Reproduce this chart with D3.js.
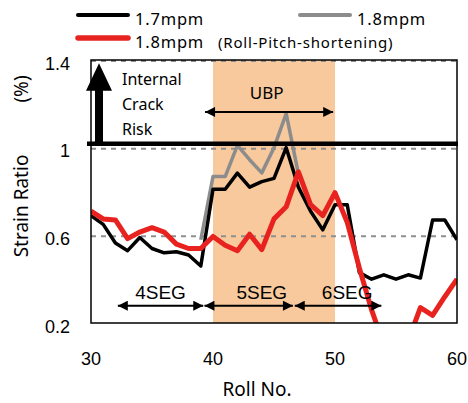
<!DOCTYPE html>
<html><head><meta charset="utf-8">
<script src="https://cdn.jsdelivr.net/npm/d3@7"></script>
<style>body{margin:0;background:#fff}svg{display:block}</style>
</head><body>
<svg id="chart" width="468" height="403"></svg>
<script>
// Roll numbers along the strand
const rolls = d3.range(30, 61);
// Strain ratio (%) per roll
const strain17 = [0.69,0.65,0.565,0.53,0.59,0.54,0.52,0.525,0.51,0.46,
                  0.81,0.81,0.884,0.82,0.845,0.86,1.0,0.82,0.71,0.625,
                  0.74,0.74,0.43,0.40,0.42,0.40,0.42,0.405,0.67,0.67,0.58];
const strain18Rolls = d3.range(39, 48);
const strain18 = [0.58,0.868,0.868,1.01,0.945,0.885,1.0,1.155,0.88];
const strain18Short = [0.71,0.675,0.67,0.585,0.615,0.635,0.615,0.56,0.54,0.54,
                       0.595,0.555,0.53,0.605,0.535,0.675,0.73,0.89,0.74,0.69,
                       0.795,0.66,0.45,0.26,0.1,0.06,0.12,0.27,0.235,0.32,0.40];
const xTicks = [30, 40, 50, 60];
const yTicks = [0.2, 0.6, 1, 1.4];
const gridValues = [0.6, 1.0, 1.4];
const ubpRange = [40, 50];
const riskLevel = 1.0;
const segments = [
  {label: "4SEG", from: 32.2, to: 39.2, text: 35.7},
  {label: "5SEG", from: 39.3, to: 46.55, text: 44.0},
  {label: "6SEG", from: 46.7, to: 53.8, text: 51.0}
];

const svg = d3.select("#chart");
const x = d3.scaleLinear().domain([30, 60]).range([91, 457]);
const y = d3.scaleLinear().domain([0.2, 1.4]).range([323, 60]);
const sans = "'Noto Sans', 'DejaVu Sans', sans-serif";
const arial = "'Liberation Sans', Arial, sans-serif";

const defs = svg.append("defs");
defs.append("clipPath").attr("id", "plot-clip")
  .append("rect").attr("x", x(30)).attr("y", y(1.4))
  .attr("width", x(60) - x(30)).attr("height", y(0.2) - y(1.4));
defs.append("marker").attr("id", "head")
  .attr("viewBox", "0 0 10 10").attr("refX", 10).attr("refY", 5)
  .attr("markerUnits", "userSpaceOnUse")
  .attr("markerWidth", 11).attr("markerHeight", 10)
  .attr("orient", "auto-start-reverse")
  .append("path").attr("d", "M0,0 L10,5 L0,10 Z").attr("fill", "#000");

// UBP zone
svg.append("rect")
  .attr("x", x(ubpRange[0])).attr("y", y(1.4))
  .attr("width", x(ubpRange[1]) - x(ubpRange[0]))
  .attr("height", y(0.2) - y(1.4))
  .attr("fill", "#F7C99C");

// dashed reference levels
svg.append("g").selectAll("line").data(gridValues).join("line")
  .attr("x1", x(30)).attr("x2", x(60))
  .attr("y1", d => y(d) + 1).attr("y2", d => y(d) + 1)
  .attr("stroke", "#8f8f8f").attr("stroke-width", 2)
  .attr("stroke-dasharray", "5,5");

// series
const line = d3.line().x(d => x(d[0])).y(d => y(d[1]));
const plot = svg.append("g").attr("clip-path", "url(#plot-clip)");
plot.append("path").datum(d3.zip(strain18Rolls, strain18))
  .attr("d", line).attr("fill", "none")
  .attr("stroke", "#8c8c8c").attr("stroke-width", 3.5).attr("stroke-linejoin", "round");
plot.append("path").datum(d3.zip(rolls, strain17))
  .attr("d", line).attr("fill", "none")
  .attr("stroke", "#000").attr("stroke-width", 3.5).attr("stroke-linejoin", "round");
plot.append("path").datum(d3.zip(rolls, strain18Short))
  .attr("d", line).attr("fill", "none")
  .attr("stroke", "#E8231F").attr("stroke-width", 5).attr("stroke-linejoin", "round");

// frame
svg.append("rect")
  .attr("x", x(30)).attr("y", y(1.4))
  .attr("width", x(60) - x(30)).attr("height", y(0.2) - y(1.4))
  .attr("fill", "none").attr("stroke", "#000").attr("stroke-width", 1.5);

// internal crack risk threshold
const riskY = y(riskLevel) - 4;
svg.append("line")
  .attr("x1", x(30) - 4).attr("x2", x(60) + 1)
  .attr("y1", riskY).attr("y2", riskY)
  .attr("stroke", "#000").attr("stroke-width", 4.5);
const ax = x(30) + 8;
svg.append("path")
  .attr("d", `M${ax - 4},${riskY} L${ax - 4},${y(1.26)} L${ax - 13},${y(1.26)} L${ax},${y(1.385)} L${ax + 13},${y(1.26)} L${ax + 4},${y(1.26)} L${ax + 4},${riskY} Z`)
  .attr("fill", "#000");
svg.append("g").selectAll("text").data(["Internal", "Crack", "Risk"]).join("text")
  .attr("x", x(30) + 31).attr("y", (d, i) => 85 + i * 25)
  .attr("font-family", sans).attr("font-size", 16).attr("fill", "#000")
  .text(d => d);

// UBP span
svg.append("line")
  .attr("x1", x(39.35)).attr("x2", x(49.85))
  .attr("y1", y(1.163)).attr("y2", y(1.163))
  .attr("stroke", "#000").attr("stroke-width", 2)
  .attr("marker-start", "url(#head)").attr("marker-end", "url(#head)");
svg.append("text")
  .attr("x", x(44.4)).attr("y", 99).attr("text-anchor", "middle")
  .attr("font-family", sans).attr("font-size", 17).text("UBP");

// segment spans
const seg = svg.append("g");
seg.selectAll("line").data(segments).join("line")
  .attr("x1", d => x(d.from)).attr("x2", d => x(d.to))
  .attr("y1", y(0.279)).attr("y2", y(0.279))
  .attr("stroke", "#000").attr("stroke-width", 2)
  .attr("marker-start", "url(#head)").attr("marker-end", "url(#head)");
seg.selectAll("text").data(segments).join("text")
  .attr("x", d => x(d.text)).attr("y", 299).attr("text-anchor", "middle")
  .attr("font-family", arial).attr("font-size", 19).text(d => d.label);

// axes labels
svg.append("g").selectAll("text").data(xTicks).join("text")
  .attr("x", d => x(d)).attr("y", 365).attr("text-anchor", "middle")
  .attr("font-family", arial).attr("font-size", 18).text(d => d);
svg.append("g").selectAll("text").data(yTicks).join("text")
  .attr("x", 70).attr("y", d => y(d) + 9.5).attr("text-anchor", "end")
  .attr("font-family", arial).attr("font-size", 18).text(d => d);
svg.append("text")
  .attr("x", 257).attr("y", 396).attr("text-anchor", "middle")
  .attr("font-family", sans).attr("font-size", 19).text("Roll No.");
svg.append("text")
  .attr("transform", "translate(28,206) rotate(-90)").attr("text-anchor", "middle")
  .attr("font-family", sans).attr("font-size", 19).text("Strain Ratio");
svg.append("text")
  .attr("transform", "translate(28,89) rotate(-90)").attr("text-anchor", "middle")
  .attr("font-family", sans).attr("font-size", 19).text("(%)");

// legend
const legend = [
  {name: "1.7mpm", color: "#000", w: 4, lx: 78, ly: 15},
  {name: "1.8mpm", color: "#8c8c8c", w: 4, lx: 300, ly: 15},
  {name: "1.8mpm", color: "#E8231F", w: 5.5, lx: 78, ly: 38}
];
const lg = svg.append("g");
lg.selectAll("line").data(legend).join("line")
  .attr("x1", d => d.lx).attr("x2", d => d.lx + 50)
  .attr("y1", d => d.ly).attr("y2", d => d.ly)
  .attr("stroke", d => d.color).attr("stroke-width", d => d.w)
  .attr("stroke-linecap", "round");
lg.selectAll("text").data(legend).join("text")
  .attr("x", d => d.lx + 57).attr("y", d => d.ly + 10)
  .attr("font-family", sans).attr("font-size", 16.5)
  .attr("letter-spacing", 0.8).text(d => d.name);
lg.append("text").attr("x", 218).attr("y", 48)
  .attr("font-family", sans).attr("font-size", 15)
  .attr("letter-spacing", 0.8).text("(Roll-Pitch-shortening)");
</script>
</body></html>
